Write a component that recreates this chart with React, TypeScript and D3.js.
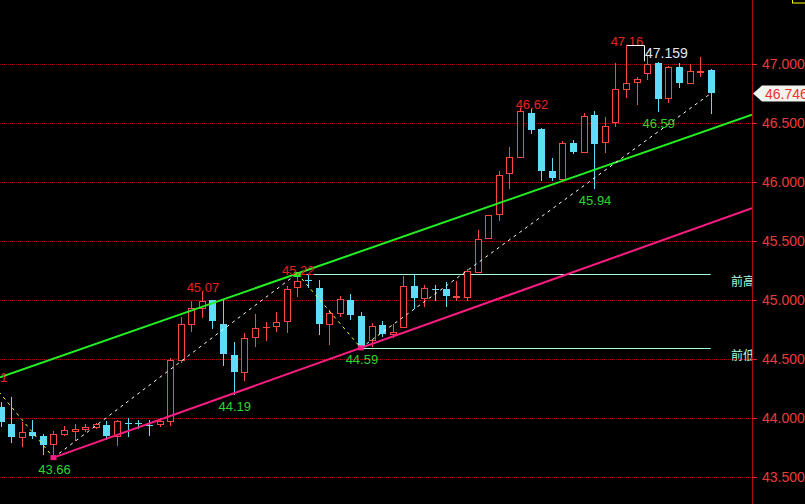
import React from 'react';
import * as d3 from 'd3';

// K-line data, one entry per bar (index 0 = first visible bar)
const opens = [
  44.085, 43.949, 43.831, 43.881, 43.839, 43.775, 43.86, 43.886, 43.903, 43.92,
  43.936, 43.843, 43.95, 43.95, 43.935, 43.945, 43.97, 44.487, 44.792, 44.928,
  44.996, 44.792, 44.53, 44.386, 44.682, 44.765, 44.775, 44.818, 45.106, 45.165,
  45.098, 44.792, 44.886, 44.996, 44.86, 44.657, 44.784, 44.708, 44.767, 45.114,
  45.013, 45.09, 45.089, 45.021, 45.021, 45.233, 45.521, 45.725, 46.072, 46.208,
  46.58, 46.445, 46.089, 46.021, 46.326, 46.25, 46.564, 46.335, 46.504, 46.784,
  46.843, 46.92, 47.004, 46.708, 46.97, 46.835, 46.93, 46.945,
];
const highs = [
  44.13, 44.17, 43.958, 43.975, 43.864, 43.886, 43.928, 43.945, 43.945, 43.953,
  43.97, 43.978, 44.0, 43.98, 43.98, 44.0, 44.504, 44.85, 44.987, 45.07,
  45.0, 44.996, 44.64, 44.716, 44.877, 44.81, 44.894, 45.114, 45.22, 45.21,
  45.165, 44.911, 45.03, 45.047, 44.894, 44.8, 44.818, 44.792, 45.2, 45.208,
  45.123, 45.123, 45.148, 45.156, 45.258, 45.589, 45.716, 46.089, 46.292, 46.62,
  46.614, 46.453, 46.2, 46.343, 46.352, 46.58, 46.597, 46.547, 47.004, 47.16,
  46.886, 47.072, 47.013, 46.975, 47.004, 46.996, 47.055, 46.953,
];
const lows = [
  43.92, 43.788, 43.754, 43.822, 43.686, 43.66, 43.843, 43.8, 43.877, 43.903,
  43.81, 43.758, 43.835, 43.9, 43.84, 43.92, 43.928, 44.46, 44.725, 44.843,
  44.75, 44.436, 44.19, 44.31, 44.597, 44.65, 44.725, 44.716, 45.02, 45.1,
  44.7, 44.614, 44.852, 44.826, 44.59, 44.597, 44.682, 44.674, 44.767, 44.92,
  44.936, 44.99, 44.936, 44.99, 44.987, 45.233, 45.521, 45.665, 45.936, 46.2,
  46.403, 46.004, 46.004, 46.013, 46.233, 46.25, 45.94, 46.242, 46.462, 46.708,
  46.648, 46.86, 46.59, 46.665, 46.792, 46.835, 46.886, 46.572,
];
const closes = [
  43.958, 43.831, 43.881, 43.847, 43.771, 43.86, 43.894, 43.903, 43.92, 43.945,
  43.843, 43.97, 43.945, 43.945, 43.93, 43.97, 44.487, 44.792, 44.928, 44.987,
  44.818, 44.538, 44.386, 44.674, 44.758, 44.77, 44.81, 45.089, 45.157, 45.16,
  44.792, 44.886, 45.004, 44.869, 44.597, 44.775, 44.708, 44.725, 45.114, 45.013,
  45.097, 45.085, 45.03, 45.03, 45.242, 45.513, 45.716, 46.055, 46.208, 46.597,
  46.436, 46.089, 46.03, 46.326, 46.25, 46.555, 46.318, 46.47, 46.784, 46.835,
  46.869, 46.996, 46.699, 46.97, 46.835, 46.936, 46.94, 46.746,
];

const yTicks = [43.5, 44, 44.5, 45, 45.5, 46, 46.5, 47];

// marked highs / lows (bar index, price)
const highMarks = [
  { i: -1, v: 44.31 },
  { i: 19, v: 45.07 },
  { i: 28, v: 45.22 },
  { i: 49, v: 46.62 },
  { i: 59, v: 47.16 },
];
const lowMarks = [
  { i: 5, v: 43.66 },
  { i: 22, v: 44.19 },
  { i: 34, v: 44.59 },
  { i: 56, v: 45.94 },
  { i: 62, v: 46.59 },
];

// swing line (zigzag)
const swings = [
  { i: -1, v: 44.31 },
  { i: 5, v: 43.66 },
  { i: 28, v: 45.22 },
  { i: 34, v: 44.59 },
  { i: 67, v: 46.746 },
];

// channel lines
const upperLine = [{ i: -1, v: 44.31 }, { i: 28, v: 45.22 }];
const lowerLine = [{ i: 5, v: 43.66 }, { i: 34, v: 44.59 }];

// previous high / low levels
const levels = [
  { name: '前高', v: 45.22, from: 28 },
  { name: '前低', v: 44.59, from: 34 },
];

const lastPrice = 46.746;
const projected = 47.159;

const W = 805;
const H = 504;
const AXIS_X = 752;
const UP = '#ff4545';
const DOWN = '#5fdcf8';
const GRID = '#a80000';
const FONT = '"Liberation Sans", Arial, sans-serif';

const App: React.FC = () => {
  const x = d3.scaleLinear().domain([0, 67]).range([0.5, 710.7]);
  const y = d3.scaleLinear().domain([43.5, 47]).range([476.5, 63.5]);
  const fmt = d3.format('.3f');
  const fmt2 = d3.format('.2f');
  const crisp = (v: number) => Math.round(v) + 0.5;
  const lastI = closes.length - 1;
  const iMax = x.invert(AXIS_X);

  // extend a two-point line to the axis
  const extend = (pts: { i: number; v: number }[], startI: number) => {
    const slope = (pts[1].v - pts[0].v) / (pts[1].i - pts[0].i);
    const at = (i: number) => pts[0].v + slope * (i - pts[0].i);
    return { x1: x(startI), y1: y(at(startI)), x2: x(iMax), y2: y(at(iMax)) };
  };
  const up = extend(upperLine, x.invert(0));
  const lo = extend(lowerLine, lowerLine[0].i);

  return (
    <>
      <style>{'body{margin:0;background:#000}'}</style>
      <svg width={W} height={H} style={{ display: 'block', background: '#000' }}>
        <defs>
          <clipPath id="plot">
            <rect x={0} y={0} width={AXIS_X} height={H} />
          </clipPath>
        </defs>
        <rect width={W} height={H} fill="#000" />

        {/* grid */}
        {yTicks.map(t => (
          <line
            key={t}
            x1={0}
            x2={AXIS_X}
            y1={crisp(y(t))}
            y2={crisp(y(t))}
            stroke={GRID}
            strokeDasharray="1,1"
          />
        ))}

        <g clipPath="url(#plot)">
          {/* previous high / low levels */}
          {levels.map(l => (
            <g key={l.name}>
              <line
                x1={x(l.from)}
                x2={x(lastI)}
                y1={crisp(y(l.v))}
                y2={crisp(y(l.v))}
                stroke="#a6ffd6"
              />
              <text
                x={731}
                y={y(l.v) + 12.5}
                fill="#a6ffd6"
                fontSize={12}
                fontFamily='"Noto Sans CJK SC", sans-serif'
              >
                {l.name}
              </text>
            </g>
          ))}

          {/* candles */}
          {closes.map((c, i) => {
            const o = opens[i];
            const cx = crisp(x(i));
            const top = Math.round(y(Math.max(o, c)));
            const bot = Math.round(y(Math.min(o, c)));
            const yh = Math.round(y(highs[i]));
            const yl = Math.round(y(lows[i]));
            if (c >= o) {
              return (
                <g key={i} stroke={UP} fill="#000">
                  <line x1={cx} x2={cx} y1={yh} y2={top} />
                  <line x1={cx} x2={cx} y1={bot} y2={yl} />
                  {bot - top < 1 ? (
                    <line x1={cx - 3.5} x2={cx + 3.5} y1={top + 0.5} y2={top + 0.5} />
                  ) : (
                    <rect x={cx - 3} y={top + 0.5} width={6} height={bot - top} />
                  )}
                </g>
              );
            }
            return (
              <g key={i}>
                <line x1={cx} x2={cx} y1={yh} y2={yl} stroke={DOWN} />
                <rect
                  x={cx - 3.5}
                  y={top}
                  width={7}
                  height={Math.max(1, bot - top)}
                  fill={DOWN}
                />
              </g>
            );
          })}

          {/* channel */}
          <line {...up} stroke="#22f022" strokeWidth={2} />
          <line {...lo} stroke="#ff1c82" strokeWidth={2} />

          {/* swing line */}
          {swings.slice(1).map((p, k) => {
            const a = swings[k];
            return (
              <line
                key={k}
                x1={x(a.i)}
                y1={y(a.v)}
                x2={x(p.i)}
                y2={y(p.v)}
                stroke={p.v > a.v ? '#ffffff' : '#ffff33'}
                strokeDasharray="3,4"
              />
            );
          })}

          {/* anchor markers */}
          {lowerLine.map(p => (
            <rect key={p.i} x={x(p.i) - 3} y={y(p.v) - 2.5} width={6} height={5} fill="#ff1c82" />
          ))}
          <rect x={x(28) - 3.5} y={y(45.22) - 1.5} width={7} height={5} fill="#22f022" />

          {/* high labels */}
          {highMarks.map(m => (
            <text
              key={m.i}
              x={x(m.i) + (m.i === 49 ? 12 : 1)}
              y={y(m.v) + 1}
              fill="#e82020"
              fontSize={13}
              fontFamily={FONT}
              textAnchor="middle"
            >
              {fmt2(m.v)}
            </text>
          ))}
          {/* low labels */}
          {lowMarks.map(m => (
            <text
              key={m.i}
              x={x(m.i) + 1}
              y={y(m.v) + 16}
              fill="#2ed52e"
              fontSize={13}
              fontFamily={FONT}
              textAnchor="middle"
            >
              {fmt2(m.v)}
            </text>
          ))}

          {/* projected high bracket */}
          <polyline
            points={[
              [x(59) + 1, crisp(y(47.16))],
              [crisp(x(60.7)), crisp(y(47.16))],
              [crisp(x(60.7)), y(47.02)],
            ]
              .map(p => p.join(','))
              .join(' ')}
            fill="none"
            stroke="#ffffff"
          />
          <text x={x(60.8)} y={58} fill="#dfe6f7" fontSize={14} fontFamily={FONT}>
            {fmt(projected)}
          </text>
        </g>

        {/* right axis */}
        <line x1={AXIS_X + 0.5} x2={AXIS_X + 0.5} y1={0} y2={H} stroke="#a80c0c" />
        {yTicks.map(t => (
          <g key={t}>
            <line
              x1={AXIS_X}
              x2={AXIS_X + 5}
              y1={crisp(y(t))}
              y2={crisp(y(t))}
              stroke="#e03030"
            />
            <text x={762} y={y(t) + 5} fill="#e83c3c" fontSize={14} fontFamily={FONT}>
              {fmt(t)}
            </text>
          </g>
        ))}

        {/* last price tag */}
        <polygon
          points={[
            [AXIS_X + 1, y(lastPrice)],
            [762, y(lastPrice) - 8],
            [W, y(lastPrice) - 8],
            [W, y(lastPrice) + 8],
            [762, y(lastPrice) + 8],
          ]
            .map(p => p.join(','))
            .join(' ')}
          fill="#f2f5ee"
        />
        <text x={765} y={y(lastPrice) + 5.5} fill="#f03030" fontSize={14} fontFamily={FONT}>
          {fmt(lastPrice)}
        </text>

        <rect x={792.5} y={-3} width={20} height={6} fill="none" stroke="#ffff00" />
      </svg>
    </>
  );
};

export default App;
